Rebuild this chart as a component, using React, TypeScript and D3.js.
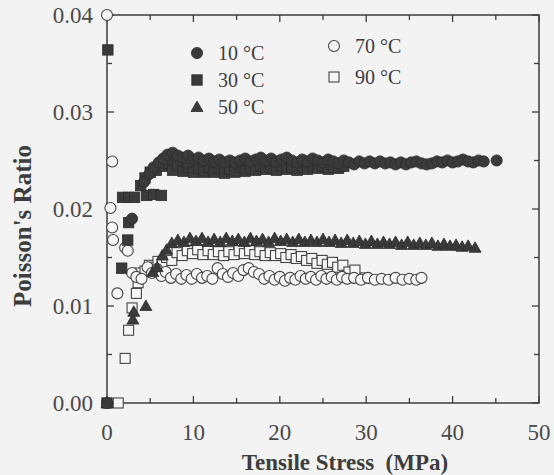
import React from "react";
import * as d3 from "d3";

const W = 554;
const H = 475;

const xTicks = [0, 10, 20, 30, 40, 50];
const yTicks = [0, 0.01, 0.02, 0.03, 0.04];
const xMinor = [0, 5, 10, 15, 20, 25, 30, 35, 40, 45, 50];
const yMinor = [0, 0.005, 0.01, 0.015, 0.02, 0.025, 0.03, 0.035, 0.04];

const s10: [number, number][] = [[0,0],[2.9,0.0190],[4.3,0.0228],[4.9,0.0236],[5.4,0.0243],[6.0,0.0248],[6.5,0.0252],[7.0,0.0256],[7.6,0.0258],[8.2,0.0255],[8.8,0.0253],[9.4,0.0255],[10.0,0.0251],[10.6,0.0253],[11.2,0.0250],[11.8,0.0252],[12.4,0.0249],[13.0,0.0251],[13.6,0.0248],[14.2,0.0250],[14.8,0.0248],[15.4,0.0250],[16.0,0.0252],[16.6,0.0249],[17.2,0.0251],[17.8,0.0253],[18.4,0.0250],[19.0,0.0252],[19.6,0.0249],[20.2,0.0251],[20.8,0.0253],[21.4,0.0250],[22.0,0.0248],[22.6,0.0251],[23.2,0.0249],[23.8,0.0252],[24.4,0.0250],[25.0,0.0248],[25.6,0.0251],[26.2,0.0249],[26.8,0.0247],[27.4,0.0250],[28.0,0.0248],[28.6,0.0246],[29.2,0.0249],[29.8,0.0247],[30.4,0.0249],[31.0,0.0247],[31.6,0.0249],[32.2,0.0247],[32.8,0.0248],[33.4,0.0246],[34.0,0.0248],[34.6,0.0246],[35.2,0.0248],[35.8,0.0249],[36.4,0.0247],[37.0,0.0246],[37.6,0.0247],[38.2,0.0249],[38.8,0.0248],[39.4,0.0250],[40.0,0.0248],[40.6,0.0249],[41.2,0.0251],[41.8,0.0249],[42.4,0.0248],[43.0,0.0250],[43.6,0.0249],[45.1,0.0250]];

const s30: [number, number][] = [[0,0],[0.1,0.0364],[1.7,0.0139],[2.4,0.0168],[2.5,0.0186],[1.8,0.0212],[2.5,0.0212],[3.2,0.0212],[3.9,0.0224],[4.6,0.0214],[5.4,0.0215],[6.3,0.0214],[4.4,0.0232],[5.0,0.0238],[5.7,0.0240],[6.4,0.0244],[7.1,0.0247],[7.6,0.0240],[8.2,0.0245],[8.8,0.0239],[9.4,0.0243],[10.0,0.0238],[10.6,0.0242],[11.2,0.0238],[11.8,0.0243],[12.4,0.0238],[13.0,0.0242],[13.6,0.0237],[14.2,0.0241],[14.8,0.0238],[15.4,0.0243],[16.0,0.0239],[16.6,0.0242],[17.2,0.0240],[17.8,0.0244],[18.4,0.0241],[19.0,0.0243],[19.6,0.0240],[20.2,0.0244],[20.8,0.0241],[21.4,0.0243],[22.0,0.0240],[22.6,0.0243],[23.2,0.0241],[23.8,0.0244],[24.4,0.0242],[25.0,0.0244],[25.6,0.0241],[26.2,0.0243],[26.8,0.0242],[27.4,0.0244]];

const s50: [number, number][] = [[0,0],[3.0,0.0086],[3.1,0.0094],[4.5,0.0100],[5.3,0.0135],[5.8,0.0140],[6.4,0.0152],[6.9,0.0158],[7.5,0.0165],[8.2,0.0168],[8.9,0.0166],[9.6,0.0170],[10.3,0.0167],[11.0,0.0170],[11.7,0.0166],[12.4,0.0169],[13.1,0.0166],[13.8,0.0170],[14.5,0.0167],[15.2,0.0169],[15.9,0.0166],[16.6,0.0170],[17.3,0.0167],[18.0,0.0169],[18.7,0.0166],[19.4,0.0170],[20.1,0.0167],[20.8,0.0169],[21.5,0.0166],[22.2,0.0169],[22.9,0.0166],[23.6,0.0168],[24.3,0.0166],[25.0,0.0169],[25.7,0.0166],[26.4,0.0168],[27.1,0.0165],[27.8,0.0168],[28.5,0.0165],[29.2,0.0167],[29.9,0.0164],[30.6,0.0167],[31.3,0.0164],[32.0,0.0166],[32.7,0.0164],[33.4,0.0166],[34.1,0.0163],[34.8,0.0166],[35.5,0.0163],[36.2,0.0165],[36.9,0.0163],[37.6,0.0165],[38.3,0.0162],[39.0,0.0164],[39.7,0.0162],[40.4,0.0163],[41.1,0.0161],[41.8,0.0162],[42.6,0.0160]];

const s70: [number, number][] = [[0,0.0400],[0.6,0.0249],[0.4,0.0201],[0.6,0.0181],[0.7,0.0168],[1.2,0.0113],[2.1,0.0160],[2.4,0.0157],[2.9,0.0134],[3.4,0.0130],[4.0,0.0128],[4.7,0.0140],[5.2,0.0134],[5.8,0.0138],[6.3,0.0131],[6.8,0.0135],[7.4,0.0129],[8.0,0.0133],[8.6,0.0128],[9.2,0.0132],[9.8,0.0128],[10.4,0.0133],[11.0,0.0129],[11.6,0.0131],[12.2,0.0128],[12.8,0.0139],[13.4,0.0133],[14.0,0.0130],[14.6,0.0134],[15.2,0.0131],[15.8,0.0137],[16.4,0.0139],[17.0,0.0135],[17.6,0.0133],[18.2,0.0128],[18.8,0.0131],[19.4,0.0127],[20.0,0.0130],[20.6,0.0126],[21.2,0.0129],[21.8,0.0127],[22.4,0.0131],[23.0,0.0128],[23.6,0.0130],[24.2,0.0127],[24.8,0.0131],[25.4,0.0128],[26.0,0.0130],[26.6,0.0127],[27.2,0.0130],[27.8,0.0128],[28.6,0.0129],[29.4,0.0127],[30.2,0.0129],[31.0,0.0127],[31.8,0.0128],[32.6,0.0127],[33.4,0.0129],[34.2,0.0127],[35.0,0.0128],[35.8,0.0127],[36.4,0.0129]];

const s90: [number, number][] = [[1.3,0],[2.1,0.0046],[2.5,0.0075],[2.9,0.0098],[3.4,0.0113],[3.6,0.0124],[3.8,0.0134],[4.4,0.0136],[4.9,0.0142],[5.4,0.0140],[5.9,0.0146],[6.4,0.0143],[6.9,0.0150],[7.5,0.0147],[8.1,0.0155],[8.7,0.0152],[9.3,0.0157],[9.9,0.0154],[10.5,0.0158],[11.1,0.0153],[11.7,0.0157],[12.3,0.0153],[12.9,0.0156],[13.5,0.0152],[14.1,0.0156],[14.7,0.0153],[15.3,0.0157],[15.9,0.0154],[16.5,0.0157],[17.1,0.0153],[17.7,0.0156],[18.3,0.0152],[18.9,0.0155],[19.5,0.0152],[20.1,0.0154],[20.7,0.0150],[21.3,0.0153],[21.9,0.0149],[22.5,0.0151],[23.1,0.0147],[23.7,0.0149],[24.3,0.0144],[24.9,0.0147],[25.5,0.0143],[26.1,0.0145],[26.7,0.0140],[27.3,0.0142],[28.0,0.0135],[28.7,0.0137],[29.9,0.0129]];

const legendLabels = ["10 °C", "30 °C", "50 °C", "70 °C", "90 °C"];

const INK = "#3d3d3d";
const FONT = "'Liberation Serif', 'DejaVu Serif', serif";

type Kind = "fcircle" | "fsquare" | "ftri" | "ocircle" | "osquare";

function Marker({ kind, x, y }: { kind: Kind; x: number; y: number }) {
  if (kind === "fcircle") return <circle cx={x} cy={y} r={5.6} fill="#3a3a3a" stroke="#2c2c2c" strokeWidth={0.8} />;
  if (kind === "fsquare") return <rect x={x - 5.2} y={y - 5.2} width={10.4} height={10.4} fill="#3a3a3a" stroke="#2c2c2c" strokeWidth={0.8} />;
  if (kind === "ftri") {
    const s = 6;
    return <path d={`M${x},${y - s}L${x + s},${y + s * 0.75}L${x - s},${y + s * 0.75}Z`} fill="#3a3a3a" stroke="#2c2c2c" strokeWidth={0.8} />;
  }
  if (kind === "ocircle") return <circle cx={x} cy={y} r={5.5} fill="#f6f6f6" stroke="#444" strokeWidth={1.1} />;
  return <rect x={x - 5} y={y - 5} width={10} height={10} fill="#f6f6f6" stroke="#444" strokeWidth={1.1} />;
}

export default function App() {
  const x = d3.scaleLinear().domain([0, 50]).range([107, 539]);
  const y = d3.scaleLinear().domain([0, 0.04]).range([403, 15]);

  const series: { data: [number, number][]; kind: Kind }[] = [
    { data: s90, kind: "osquare" },
    { data: s70, kind: "ocircle" },
    { data: s50, kind: "ftri" },
    { data: s30, kind: "fsquare" },
    { data: s10, kind: "fcircle" },
  ];

  const legend: { kind: Kind; lx: number; ly: number; label: string }[] = [
    { kind: "fcircle", lx: 197, ly: 53, label: legendLabels[0] },
    { kind: "fsquare", lx: 197, ly: 80, label: legendLabels[1] },
    { kind: "ftri", lx: 197, ly: 107, label: legendLabels[2] },
    { kind: "ocircle", lx: 334, ly: 46, label: legendLabels[3] },
    { kind: "osquare", lx: 334, ly: 77, label: legendLabels[4] },
  ];

  const x0 = x(0), x1 = x(50), y0 = y(0), y1 = y(0.04);

  return (
    <svg width={W} height={H} style={{ position: "absolute", left: 0, top: 0 }} fontFamily={FONT}>
      <rect x={0} y={0} width={W} height={H} fill="#f3f3f3" />
      <g stroke={INK} strokeWidth={1.3}>
        {xMinor.map((t, i) => {
          const len = i % 2 === 0 ? 7 : 5;
          return (
            <g key={"xt" + t}>
              <line x1={x(t)} x2={x(t)} y1={y0} y2={y0 - len} />
              <line x1={x(t)} x2={x(t)} y1={y1} y2={y1 + len} />
            </g>
          );
        })}
        {yMinor.map((t, i) => {
          const len = i % 2 === 0 ? 7 : 5;
          return (
            <g key={"yt" + t}>
              <line x1={x0} x2={x0 + len} y1={y(t)} y2={y(t)} />
              <line x1={x1} x2={x1 - len} y1={y(t)} y2={y(t)} />
            </g>
          );
        })}
      </g>
      <rect x={x0} y={y1} width={x1 - x0} height={y0 - y1} fill="none" stroke={INK} strokeWidth={1.5} />
      {series.map((s, si) => (
        <g key={si}>
          {s.data.map((d, i) => (
            <Marker key={i} kind={s.kind} x={x(d[0])} y={y(d[1])} />
          ))}
        </g>
      ))}
      <g fill="#4a4a4a" fontSize={23}>
        {xTicks.map((t) => (
          <text key={"xl" + t} x={x(t)} y={y0 + 37} textAnchor="middle">{t}</text>
        ))}
        {yTicks.map((t) => (
          <text key={"yl" + t} x={x0 - 14} y={y(t) + 8} textAnchor="end">{t.toFixed(2)}</text>
        ))}
      </g>
      <text x={345} y={470} textAnchor="middle" fontSize={23} fontWeight="bold" fill={INK} style={{ whiteSpace: "pre" }}>{"Tensile Stress  (MPa)"}</text>
      <text transform={`translate(31,226) rotate(-90)`} textAnchor="middle" fontSize={25} fontWeight="bold" fill={INK}>Poisson's Ratio</text>
      {legend.map((l, i) => (
        <g key={"lg" + i}>
          <Marker kind={l.kind} x={l.lx} y={l.ly} />
          <text x={l.lx + 21} y={l.ly + 7} fontSize={20} fill={INK}>{l.label}</text>
        </g>
      ))}
    </svg>
  );
}
